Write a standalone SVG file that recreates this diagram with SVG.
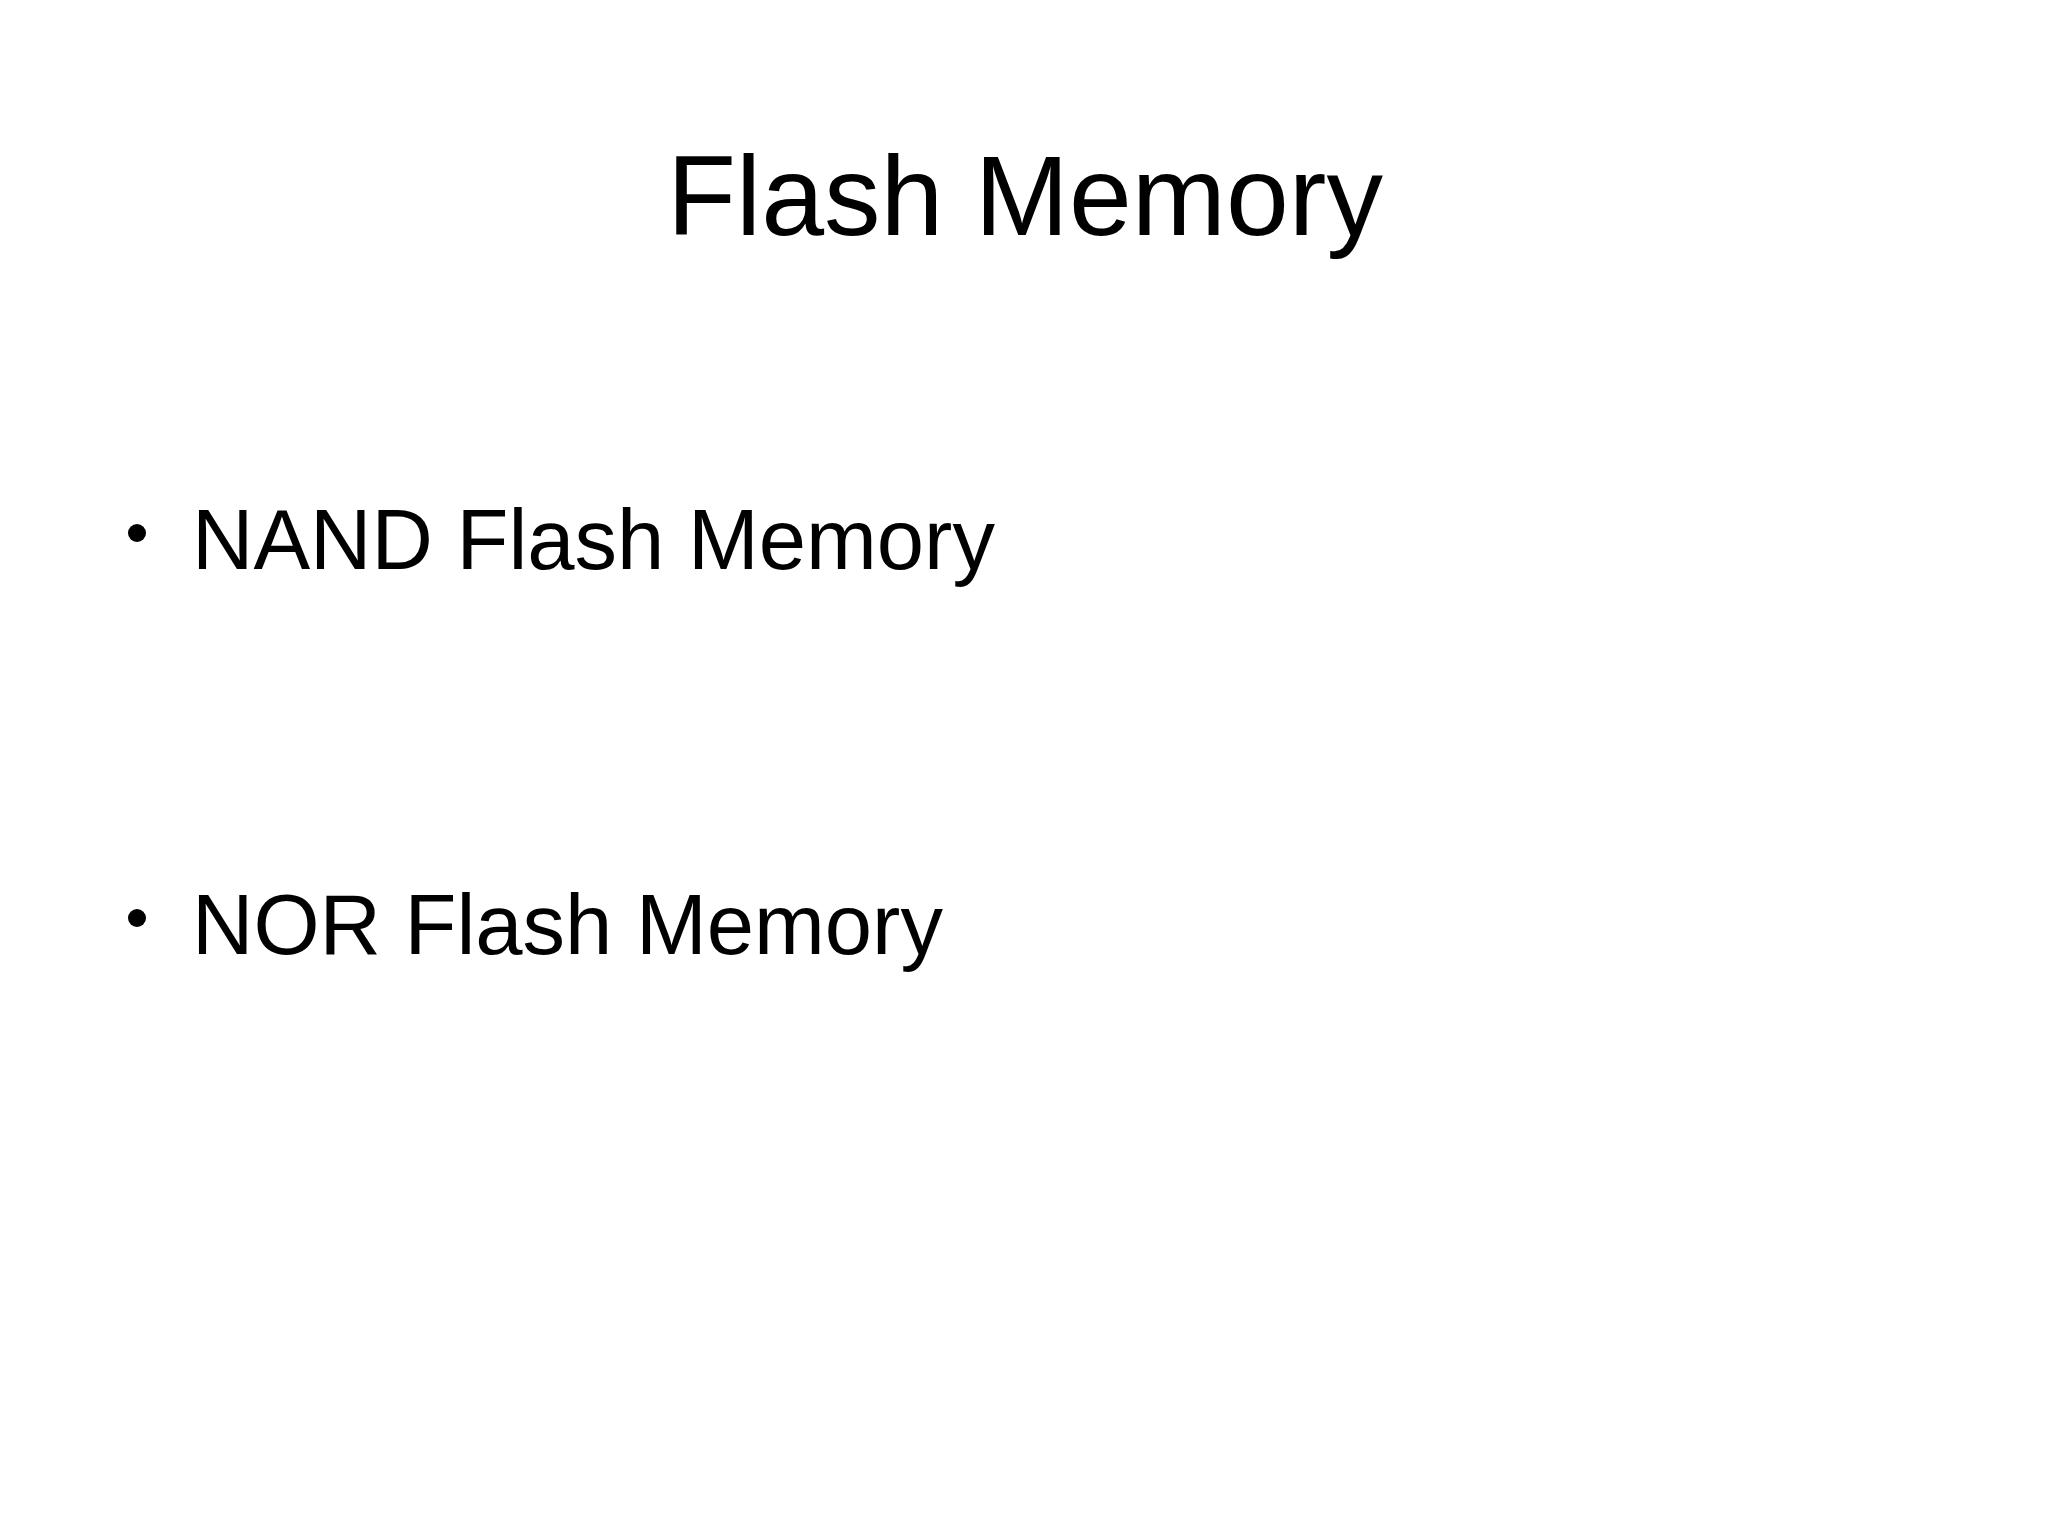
<svg xmlns="http://www.w3.org/2000/svg" width="2048" height="1535" viewBox="0 0 2048 1535">
<style>
text{font-family:"Liberation Sans",Arial,sans-serif;fill:#000}
.t{font-size:113px}
.b{font-size:85px}
</style>
<rect width="2048" height="1535" fill="#fff"/>
<g id="title"><text class="t" x="1025" y="235" text-anchor="middle">Flash Memory</text></g>
<g id="nand"><circle cx="137" cy="533" r="9"/><text class="b" x="192" y="569">NAND Flash Memory</text></g>
<g id="nor"><circle cx="137" cy="918" r="9"/><text class="b" x="192" y="954">NOR Flash Memory</text></g>
<g id="connectors"/>
</svg>
